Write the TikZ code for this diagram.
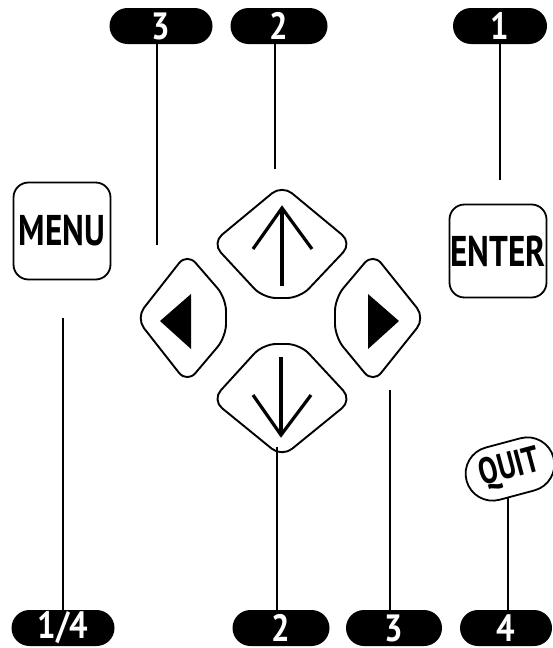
\documentclass[tikz,border=0pt]{standalone}
\usepackage{fontspec}
\newfontfamily\keyfont[FakeStretch=0.77]{PT Sans}
\newfontfamily\numfont[FakeStretch=0.86]{PT Sans}
\usetikzlibrary{positioning,calc}

\begin{document}
\begin{tikzpicture}[x=1pt,y=-1pt,
  lead/.style={line width=1.3pt},
  key/.style={draw,line width=1.8pt,rounded corners=15pt,minimum width=97pt,minimum height=97pt,inner sep=0pt,font=\keyfont\bfseries\fontsize{43}{43}\selectfont},
  pill/.style={fill=black,rounded corners=18pt,minimum width=97pt,minimum height=36pt,inner sep=0pt,text=white,font=\numfont\bfseries\fontsize{38}{38}\selectfont},
  pad/.style={draw,line width=1.9pt,rounded corners=13pt},
  padarrow/.style={line width=3.2pt}]
  \useasboundingbox (0,0) rectangle (553,648);
  % ---------------- keys ----------------
  \node[key] (menu) at (62,231) {MENU};
  \node[key,minimum height=93pt] (enter) at (498,251) {ENTER};
  \node[key,rotate=15,minimum width=90pt,minimum height=54pt,rounded corners=27pt,font=\keyfont\bfseries\fontsize{37}{37}\selectfont] (quit) at (510,469) {QUIT};
  % ---------------- direction pad ----------------
  \draw[pad] (282,185) -- (352,243) -- (300,298) -- (263,298) -- (212,243) -- cycle;
  \draw[pad] (263,344) -- (300,344) -- (352,400) -- (282,457) -- (212,400) -- cycle;
  \draw[pad] (187,253) -- (226,298) -- (226,337) -- (187,383) -- (136,318) -- cycle;
  \draw[pad] (373,253) -- (425,318) -- (373,383) -- (335,337) -- (335,298) -- cycle;
  \fill (160,321) -- (191,294) -- (191,349) -- cycle;
  \fill (399,321) -- (368,294) -- (368,349) -- cycle;
  \draw[padarrow] (282,286) -- (282,210);
  \draw[padarrow] (253,249) -- (282,208) -- (312,249);
  \draw[padarrow] (281,357) -- (281,433);
  \draw[padarrow] (253,395) -- (281,435) -- (311,395);
  % ---------------- number tags ----------------
  \node[pill,minimum width=103pt] (t3) at (161,26) {3};
  \node[pill] (t2) at (279,26) {2};
  \node[pill,minimum width=94pt] (t1) at (500,26) {1};
  \node[pill,minimum width=103pt] (b14) at (63,628) {1/4};
  \node[pill] (b2) at (281,628) {2};
  \node[pill,minimum width=96pt] (b3) at (394,628) {3};
  \node[pill,minimum width=92pt] (b4) at (506,628) {4};
  % ---------------- leader lines ----------------
  \coordinate (e3) at (157,245);
  \coordinate (e2) at (275,169);
  \coordinate (e1) at (500,180);
  \coordinate (e14) at (63,318);
  \coordinate (eb2) at (277,447);
  \coordinate (eb3) at (390,390);
  \draw[lead] (t3.south -| e3) -- (e3);
  \draw[lead] (t2.south -| e2) -- (e2);
  \draw[lead] (t1.south -| e1) -- (e1);
  \draw[lead] (b14.north -| e14) -- (e14);
  \draw[lead] (b2.north -| eb2) -- (eb2);
  \draw[lead] (b3.north -| eb3) -- (eb3);
  \draw[lead] ([xshift=2pt]b4.north) -- ([xshift=2pt,yshift=-2pt]b4.north |- quit.south);
\end{tikzpicture}
\end{document}
